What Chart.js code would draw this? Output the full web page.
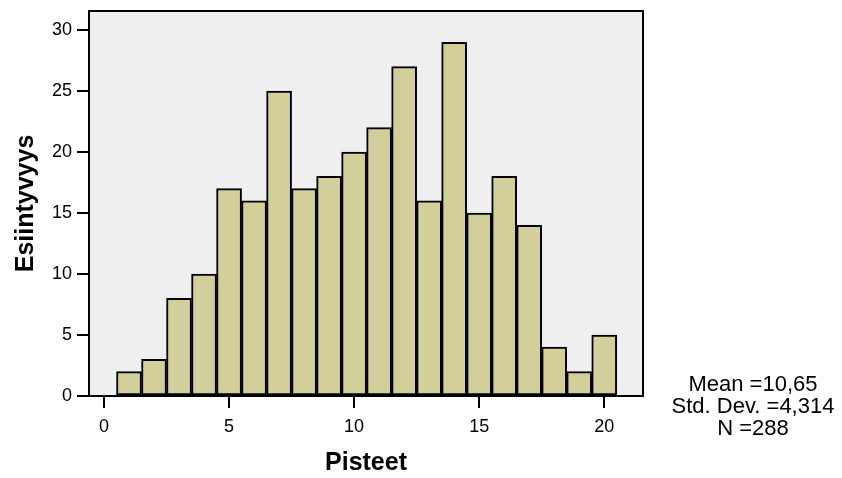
<!DOCTYPE html>
<html>
<head>
<meta charset="utf-8">
<title>Pisteet</title>
<script src="https://cdn.jsdelivr.net/npm/chart.js@4/dist/chart.umd.min.js"></script>
<style>
  html, body { margin: 0; padding: 0; background: #ffffff; }
  #wrap { width: 842px; height: 478px; }
</style>
</head>
<body>
<div id="wrap"><canvas id="histogram" width="842" height="478"></canvas></div>
<script>
// Pisteet (score) and how many got each
const scores = [1, 2, 3, 4, 5, 6, 7, 8, 9, 10, 11, 12, 13, 14, 15, 16, 17, 18, 19, 20];
const counts = [2, 3, 8, 10, 17, 16, 25, 17, 18, 20, 22, 27, 16, 29, 15, 18, 14, 4, 2, 5];
const xTicks = [0, 5, 10, 15, 20];
const yTicks = [0, 5, 10, 15, 20, 25, 30];
const statLines = ["Mean =10,65", "Std. Dev. =4,314", "N =288"];

const fontFamily = "'Liberation Sans', Arial, sans-serif";

// grey plot background + black frame
const frame = {
  id: "frame",
  beforeDatasetsDraw(chart) {
    const { ctx, chartArea: a } = chart;
    ctx.save();
    ctx.fillStyle = "#efefef";
    ctx.fillRect(a.left, a.top, a.right - a.left, a.bottom - a.top);
    ctx.restore();
  },
  afterDatasetsDraw(chart) {
    const { ctx, chartArea: a } = chart;
    ctx.save();
    ctx.strokeStyle = "#000";
    ctx.lineWidth = 2;
    ctx.strokeRect(a.left, a.top, a.right - a.left, a.bottom - a.top);
    ctx.restore();
  },
};

// summary text on the right
const stats = {
  id: "stats",
  afterDraw(chart) {
    const ctx = chart.ctx;
    ctx.save();
    ctx.fillStyle = "#000";
    ctx.font = "22px " + fontFamily;
    ctx.textAlign = "center";
    ctx.textBaseline = "middle";
    statLines.forEach((t, i) => ctx.fillText(t, 753, 385 + i * 22));
    ctx.restore();
  },
};

const ctx = document.getElementById("histogram").getContext("2d");
new Chart(ctx, {
  type: "bar",
  data: {
    datasets: [
      {
        data: scores.map((s, i) => ({ x: s, y: counts[i] })),
        backgroundColor: "#d3cf9b",
        borderColor: "#000",
        borderWidth: 2,
        borderSkipped: false,
        barPercentage: 1,
        categoryPercentage: 1,
      },
    ],
  },
  options: {
    responsive: false,
    animation: false,
    devicePixelRatio: 1,
    layout: { padding: { top: 11, right: 199, left: 0, bottom: 0 } },
    plugins: {
      legend: { display: false },
      tooltip: { enabled: false },
    },
    scales: {
      x: {
        type: "linear",
        min: -0.6,
        max: 21.55,
        offset: false,
        afterFit(scale) {
          scale.height = 82;
          scale.paddingLeft = 0;
          scale.paddingRight = 0;
        },
        afterBuildTicks(scale) { scale.ticks = xTicks.map(v => ({ value: v })); },
        grid: { offset: false, drawOnChartArea: false, drawTicks: true, tickLength: 12, color: "#000", lineWidth: 2 },
        border: { display: false },
        ticks: { color: "#000", padding: 8, maxRotation: 0, font: { family: fontFamily, size: 18 } },
        title: {
          display: true,
          text: "Pisteet",
          color: "#000",
          padding: { top: 0, bottom: 0 },
          font: { family: fontFamily, size: 25, weight: "bold" },
        },
      },
      y: {
        min: 0,
        max: 31.56,
        afterFit(scale) {
          scale.width = 89;
          scale.paddingTop = 0;
          scale.paddingBottom = 0;
        },
        afterBuildTicks(scale) { scale.ticks = yTicks.map(v => ({ value: v })); },
        grid: { drawOnChartArea: false, drawTicks: true, tickLength: 12, color: "#000", lineWidth: 2 },
        border: { display: false },
        ticks: { color: "#000", padding: 5, font: { family: fontFamily, size: 18 } },
        title: {
          display: true,
          text: "Esiintyvyys",
          color: "#000",
          padding: { top: 11, bottom: 0 },
          font: { family: fontFamily, size: 25, weight: "bold" },
        },
      },
    },
  },
  plugins: [frame, stats],
});
</script>
</body>
</html>
